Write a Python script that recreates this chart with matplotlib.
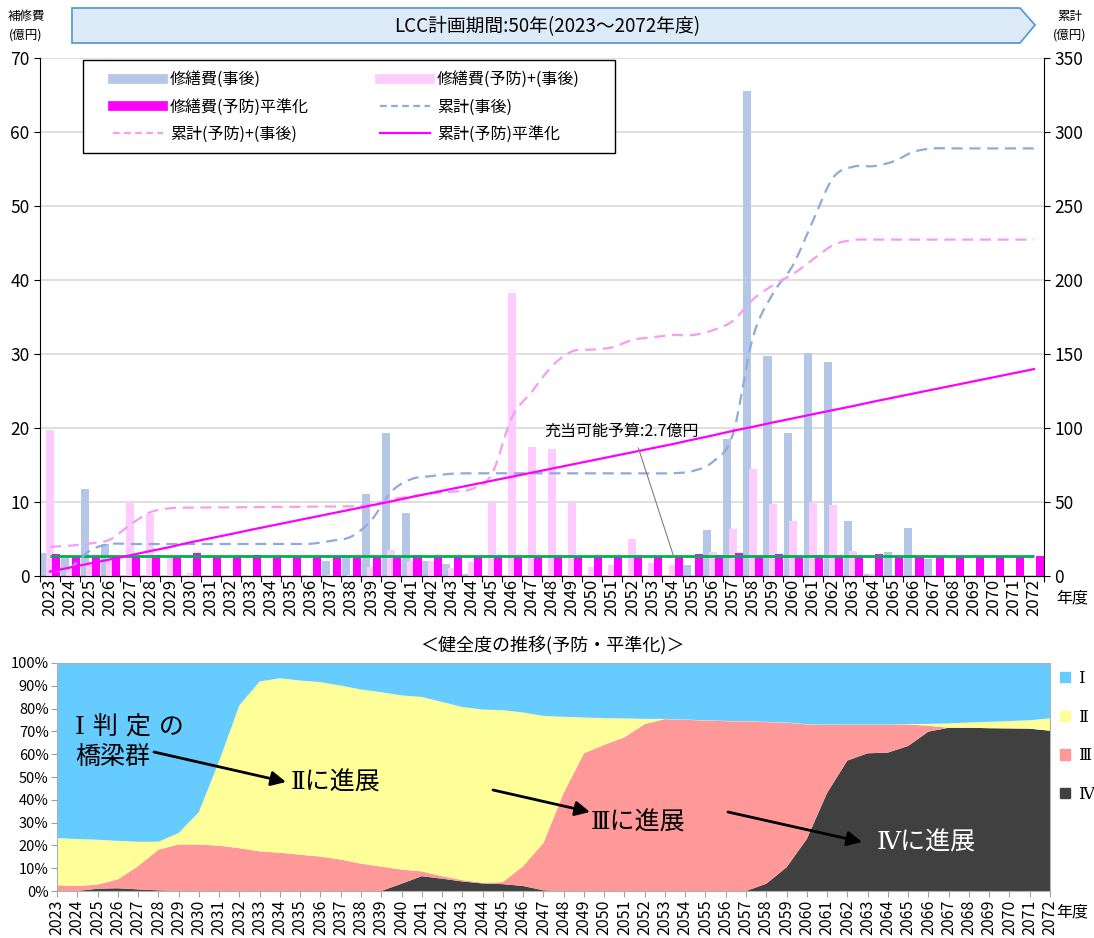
import numpy as np
import matplotlib.pyplot as plt
from matplotlib.patches import Polygon, Patch, Rectangle
from matplotlib.lines import Line2D

plt.rcParams['font.family'] = ['Noto Sans CJK JP', 'DejaVu Sans']
SERIF = ['DejaVu Serif', 'Noto Sans CJK JP']

years = list(range(2023, 2073))

# 修繕費（億円/年）
cost_post = [3.1, 2.5, 11.7, 4.3, 0, 0, 0, 0, 0, 0,
             0, 0, 0, 0.2, 2.0, 2.8, 11.1, 19.3, 8.5, 2.0,
             1.6, 0.3, 0, 0, 0, 0, 0, 0, 0, 0,
             0, 0, 1.5, 6.2, 18.5, 65.5, 29.7, 19.3, 30.1, 28.9,
             7.5, 0.3, 3.2, 6.5, 2.3, 0, 0, 0, 0, 0]
cost_prev = [19.7, 0.8, 1.5, 2.7, 10.0, 8.4, 2.7, 0.4, 0.1, 0.1,
             0.1, 0.1, 0.1, 0.1, 0.1, 0.2, 1.2, 3.5, 2.0, 2.0,
             1.1, 1.9, 10.0, 38.3, 17.5, 17.2, 10.0, 1.2, 1.5, 5.0,
             1.8, 1.5, 0, 3.2, 6.3, 14.5, 9.7, 7.5, 10.0, 9.6,
             3.4, 0.3, 0, 0, 0, 0, 0, 0, 0, 0]
cost_level = [3.0, 2.75, 2.75, 2.75, 2.75, 2.9, 2.75, 3.15, 2.75, 2.75,
              2.9, 2.75, 2.75, 2.75, 2.75, 2.75, 2.75, 2.75, 2.9, 2.75,
              2.75, 2.75, 2.75, 2.75, 2.75, 2.75, 2.75, 2.75, 2.75, 2.75,
              2.75, 2.75, 3.0, 2.85, 3.1, 2.75, 2.95, 2.75, 2.85, 2.75,
              2.75, 2.95, 2.75, 2.75, 2.75, 2.75, 2.75, 2.75, 2.75, 2.75]
budget = 2.7

# 健全度の構成比（%）
share_1 = [76.8, 77.2, 77.5, 78.0, 78.4, 78.4, 74.6, 65.4, 43.0, 18.6,
           8.1, 6.7, 7.7, 8.4, 9.9, 11.6, 12.8, 14.2, 14.9, 17.1,
           19.3, 20.4, 20.7, 21.7, 23.2, 23.6, 23.9, 24.2, 24.3, 24.5,
           24.5, 24.8, 25.1, 25.4, 25.5, 25.8, 26.1, 26.8, 27.0, 27.0,
           27.0, 27.0, 26.8, 26.7, 26.5, 26.1, 25.8, 25.5, 25.1, 24.3]
share_2 = [20.7, 20.6, 19.7, 16.9, 10.7, 3.5, 5.0, 14.2, 37.1, 62.6,
           74.5, 76.5, 76.4, 76.5, 76.3, 76.4, 76.5, 76.4, 76.5, 76.4,
           75.9, 76.0, 75.4, 67.4, 55.8, 33.4, 15.7, 11.7, 8.3, 2.3,
           0.1, 0.1, 0.1, 0.1, 0.1, 0.1, 0.1, 0.1, 0.1, 0.1,
           0.1, 0.1, 0.2, 0.8, 1.9, 2.3, 2.8, 3.2, 3.7, 5.4]
share_3 = [2.5, 2.2, 1.8, 3.9, 10.2, 17.8, 20.4, 20.4, 19.9, 18.8,
           17.4, 16.8, 15.9, 15.1, 13.8, 12.0, 10.7, 6.2, 2.1, 1.1,
           0.6, 0.3, 0.9, 8.7, 20.7, 43.0, 60.4, 64.1, 67.4, 73.2,
           75.4, 75.1, 74.8, 74.5, 74.4, 70.9, 63.4, 50.3, 29.9, 15.7,
           12.5, 12.2, 9.4, 2.6, 0, 0, 0, 0, 0, 0]
share_4 = [0, 0, 1.0, 1.2, 0.7, 0.3, 0, 0, 0, 0,
           0, 0, 0, 0, 0, 0, 0, 3.2, 6.5, 5.4,
           4.2, 3.3, 3.0, 2.2, 0.3, 0, 0, 0, 0, 0,
           0, 0, 0, 0, 0, 3.2, 10.4, 22.8, 43.0, 57.2,
           60.4, 60.7, 63.6, 69.9, 71.6, 71.6, 71.4, 71.3, 71.2, 70.3]

W, H = 1094, 938
fig = plt.figure(figsize=(W / 100, H / 100), dpi=100)


def fx(x):
    return x / W


def fy(y):
    return 1 - y / H


def smooth_curve(x, y, steps=16):
    # bezier through the points, like a spreadsheet "smoothed line"
    p = np.column_stack([x, y]).astype(float)
    p = np.vstack([p[:1], p, p[-1:]])
    t = np.linspace(0, 1, steps)[:, None]
    out = []
    for i in range(len(p) - 3):
        p0, p1, p2, p3 = p[i], p[i + 1], p[i + 2], p[i + 3]
        c1 = p1 + (p2 - p0) / 6
        c2 = p2 - (p3 - p1) / 6
        b = (1 - t) ** 3 * p1 + 3 * (1 - t) ** 2 * t * c1 + 3 * (1 - t) * t ** 2 * c2 + t ** 3 * p2
        out.append(b)
    out = np.vstack(out)
    return out[:, 0], out[:, 1]


# header arrow
pts = [(72, 8), (1020, 8), (1035, 25), (1020, 43), (72, 43)]
fig.add_artist(Polygon([(fx(a), fy(b)) for a, b in pts], closed=True,
                       transform=fig.transFigure, facecolor='#DDEAF7',
                       edgecolor='#5B9BD5', lw=1.3))
fig.text(fx(547), fy(27), 'LCC計画期間:50年(2023～2072年度)', fontsize=13.5,
         ha='center', va='center')
fig.text(fx(26), fy(26), '補修費\n(億円)', fontsize=9, ha='center', va='center',
         linespacing=1.6)
fig.text(fx(1070), fy(26), '累計\n(億円)', fontsize=9, ha='center', va='center',
         linespacing=1.6)

# ---- upper chart: costs and cumulative ----
ax = fig.add_axes([fx(40), fy(576), fx(1044) - fx(40), fy(58) - fy(576)])
idx = np.arange(len(years))
ax.bar(idx - 0.27, cost_post, 0.4, color='#B4C7E7', zorder=2)
ax.bar(idx, cost_prev, 0.4, color='#FFCCFF', zorder=3)
ax.bar(idx + 0.3, cost_level, 0.4, color='#FF00FF', zorder=4)
ax.hlines(budget, 0, len(years) - 1, color='#00B050', lw=2, zorder=5)

ax.set_xlim(-0.5, len(years) - 0.5)
ax.set_ylim(0, 70)
ax.set_yticks(range(0, 71, 10))
ax.yaxis.grid(True, color='#D9D9D9', lw=1.2)
ax.set_axisbelow(True)
ax.set_xticks(np.arange(-0.5, len(years), 1))
ax.set_xticklabels([])
ax.set_xticks(idx, minor=True)
ax.set_xticklabels(years, minor=True, rotation=90, fontsize=12)
ax.tick_params(axis='x', which='minor', length=0, pad=2)
ax.tick_params(axis='x', which='major', length=4)
ax.tick_params(axis='y', labelsize=12.5, length=4)
ax.spines['top'].set_visible(False)
ax.spines['right'].set_visible(False)

ax2 = ax.twinx()
ax2.set_ylim(0, 350)
ax2.set_yticks(range(0, 351, 50))
ax2.tick_params(axis='y', labelsize=12.5, length=4)
ax2.spines['top'].set_visible(False)
ax2.spines['left'].set_visible(False)

cum_post = np.cumsum(cost_post)
cum_prev = np.cumsum(cost_prev)
cum_level = np.cumsum(cost_level)
sx, sy = smooth_curve(idx, cum_post)
ax2.plot(sx, sy, color='#8FAADC', lw=1.6, ls=(0, (5, 3)))
sx, sy = smooth_curve(idx, cum_prev)
ax2.plot(sx, sy, color='#F59DF2', lw=1.6, ls=(0, (5, 3)))
ax2.plot(idx, cum_level, color='#FF00FF', lw=1.6)

ax2.text(24.6, 19.5 * 5, '充当可能予算:2.7億円', fontsize=11.5, va='center')
ax2.plot([29.3, 31.05], [17.3 * 5, budget * 5], color='#808080', lw=0.8)

fig.text(fx(1072), fy(598), '年度', fontsize=11.5, ha='center', va='center')

# legend frame drawn separately so the entries can sit inset
fig.add_artist(Rectangle((fx(83), fy(153)), fx(615) - fx(83), fy(60) - fy(153),
                         transform=fig.transFigure, facecolor='white',
                         edgecolor='black', lw=1.0, zorder=3))
handles = [Line2D([], [], color='#B4C7E7', lw=7),
           Line2D([], [], color='#FF00FF', lw=7),
           Line2D([], [], color='#F59DF2', lw=1.6, ls=(0, (3, 2))),
           Line2D([], [], color='#FFCCFF', lw=7),
           Line2D([], [], color='#8FAADC', lw=1.6, ls=(0, (3, 2))),
           Line2D([], [], color='#FF00FF', lw=1.6)]
labels = ['修繕費(事後)', '修繕費(予防)平準化', '累計(予防)+(事後)',
          '修繕費(予防)+(事後)', '累計(事後)', '累計(予防)平準化']
leg = fig.legend(handles, labels, ncol=2, loc='center',
                 bbox_to_anchor=(fx(113), fy(151), fx(580) - fx(113), fy(63) - fy(151)),
                 mode='expand', frameon=False, fontsize=11.5, handlelength=3.1,
                 handletextpad=0.45, borderaxespad=0, borderpad=0, labelspacing=0.65)
leg.set_zorder(4)

# ---- lower chart: health grade shares ----
axb = fig.add_axes([fx(57), fy(891), fx(1050) - fx(57), fy(663) - fy(891)])
grade_colors = ['#404040', '#FF9999', '#FFFF99', '#66CCFF']
axb.stackplot(idx, share_4, share_3, share_2, share_1, colors=grade_colors, lw=0)
axb.set_xlim(0, len(years) - 1)
axb.set_ylim(0, 100)
axb.set_yticks(range(0, 101, 10))
axb.set_yticklabels([f'{v}%' for v in range(0, 101, 10)], fontsize=10.5)
axb.set_xticks(idx)
axb.set_xticklabels(years, rotation=90, fontsize=11.5)
axb.tick_params(length=4, color='#A0A0A0', pad=2)
for s in axb.spines.values():
    s.set_color('#B0B0B0')

fig.text(fx(552), fy(646), '＜健全度の推移(予防・平準化)＞', fontsize=13,
         ha='center', va='center')
fig.text(fx(1072), fy(912), '年度', fontsize=11.5, ha='center', va='center')

fig.legend([Patch(color=c) for c in grade_colors[::-1]], ['Ⅰ', 'Ⅱ', 'Ⅲ', 'Ⅳ'],
           loc='upper left', bbox_to_anchor=(fx(1060), fy(670)), frameon=False,
           handlelength=0.6, handleheight=0.6, handletextpad=0.5, borderpad=0,
           borderaxespad=0, labelspacing=1.3, prop={'family': SERIF, 'size': 12})

fig.text(fx(75), fy(728), 'Ⅰ 判 定 の', fontsize=18, va='center', family=SERIF)
fig.text(fx(75), fy(757), '橋梁群', fontsize=18, va='center', family=SERIF)
fig.text(fx(291), fy(783), 'Ⅱに進展', fontsize=18, va='center', family=SERIF)
fig.text(fx(591), fy(823), 'Ⅲに進展', fontsize=18, va='center', family=SERIF)
fig.text(fx(877), fy(843), 'Ⅳに進展', fontsize=18, va='center', color='white',
         family=SERIF)

arrows = [((154, 752), (286, 782)), ((493, 790), (590, 812)), ((728, 812), (862, 842))]
for (x0, y0), (x1, y1) in arrows:
    axb.annotate('', xy=(fx(x1), fy(y1)), xytext=(fx(x0), fy(y0)),
                 xycoords='figure fraction', textcoords='figure fraction',
                 arrowprops=dict(arrowstyle='-|>', color='black', lw=2,
                                 mutation_scale=22, shrinkA=0, shrinkB=0))

fig.savefig('out.png', dpi=100)
